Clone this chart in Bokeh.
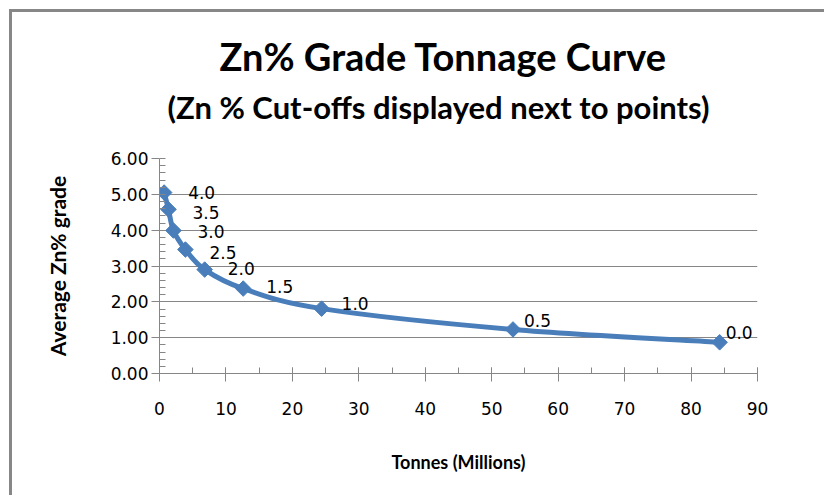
import numpy as np
from bokeh.plotting import figure
from bokeh.models import (Range1d, Title, ColumnDataSource, PrintfTickFormatter,
                          SingleIntervalTicker)
from bokeh.core.properties import value
from bokeh.embed import file_html
from bokeh.resources import INLINE

# ---- data ----
tonnes = [0.7, 1.35, 2.1, 3.9, 6.8, 12.6, 24.4, 53.2, 84.3]      # Tonnes (Millions)
grade = [5.05, 4.58, 3.99, 3.46, 2.90, 2.37, 1.81, 1.23, 0.87]   # Average Zn% grade
cutoff = ["4.0", "3.5", "3.0", "2.5", "2.0", "1.5", "1.0", "0.5", "0.0"]

# label nudges in screen pixels (styling only)
label_dx = [24, 24, 24, 24, 23, 23, 20, 11, 6]
label_dy = [0, 3, 1, 3, -1, -2, -5, -9, -10]

BLUE = "#4A7EBB"
GRAY = "#868686"

W, H = 815, 486
FL, FT, FR, FB = 147, 146, 745, 361   # frame edges in canvas px
p = figure(width=W, height=H, output_backend="svg", toolbar_location=None,
           title=None,
           x_range=Range1d(0, 90), y_range=Range1d(0, 6),
           min_border_left=FL, min_border_right=W - FR,
           min_border_top=FT, min_border_bottom=H - FB,
           background_fill_color="white", border_fill_color="white")
p.margin = (9, 0, 0, 9)
p.styles = {"border-left": "3px solid #878787", "border-top": "3px solid #878787"}
p.outline_line_color = None
p.xgrid.visible = False
p.ygrid.grid_line_color = GRAY
p.ygrid.grid_line_width = 1

# titles: first added sits closest to the plot (a blank spacer first)
p.add_layout(Title(text=" ", text_font_size="2px", standoff=21), "above")
p.add_layout(Title(text="(Zn % Cut-offs displayed next to points)", align="left",
                   offset=8, standoff=15, text_font="Lato", text_font_style="bold",
                   text_font_size="31px", text_color="black"), "above")
p.add_layout(Title(text="Zn% Grade Tonnage Curve", align="left",
                   offset=60, standoff=0, text_font="Lato", text_font_style="bold",
                   text_font_size="38px", text_color="black"), "above")

# axes
p.xaxis.ticker = SingleIntervalTicker(interval=10, num_minor_ticks=2)
p.yaxis.ticker = SingleIntervalTicker(interval=1, num_minor_ticks=5)
p.yaxis.formatter = PrintfTickFormatter(format="%.2f")
for ax in (p.xaxis[0], p.yaxis[0]):
    ax.axis_line_color = GRAY
    ax.major_tick_line_color = GRAY
    ax.minor_tick_line_color = GRAY
    ax.major_label_text_font = "DejaVu Sans"
    ax.major_label_text_font_size = "17px"
    ax.major_label_text_color = "black"
    ax.axis_label_text_font = "Lato"
    ax.axis_label_text_font_style = "bold"
    ax.axis_label_text_color = "black"

p.xaxis.major_tick_in = 6
p.xaxis.major_tick_out = 8
p.xaxis.minor_tick_in = 6
p.xaxis.minor_tick_out = 0
p.xaxis.major_label_standoff = 20
p.xaxis.axis_label = "Tonnes (Millions)"
p.xaxis.axis_label_text_font_size = "18px"
p.xaxis.axis_label_standoff = 33

p.yaxis.major_tick_in = 0
p.yaxis.major_tick_out = 8
p.yaxis.minor_tick_in = 6
p.yaxis.minor_tick_out = 0
p.yaxis.major_label_standoff = 3
p.yaxis.axis_label = "Average Zn% grade"
p.yaxis.axis_label_text_font_size = "21px"
p.yaxis.axis_label_standoff = 38

# smoothed line (Catmull-Rom -> cubic Bezier, control points from the data)
n = len(tonnes)
x0, y0, x1, y1, cx0, cy0, cx1, cy1 = ([] for _ in range(8))
for i in range(n - 1):
    a = max(i - 1, 0)
    b = min(i + 2, n - 1)
    x0.append(tonnes[i]); y0.append(grade[i])
    x1.append(tonnes[i + 1]); y1.append(grade[i + 1])
    cx0.append(tonnes[i] + (tonnes[i + 1] - tonnes[a]) / 6)
    cy0.append(grade[i] + (grade[i + 1] - grade[a]) / 6)
    cx1.append(tonnes[i + 1] - (tonnes[b] - tonnes[i]) / 6)
    cy1.append(grade[i + 1] - (grade[b] - grade[i]) / 6)
p.bezier(x0=x0, y0=y0, x1=x1, y1=y1, cx0=cx0, cy0=cy0, cx1=cx1, cy1=cy1,
         line_color=BLUE, line_width=5, line_cap="round", line_join="round")

src = ColumnDataSource(dict(x=tonnes, y=grade, t=cutoff, dx=label_dx, dy=label_dy))
p.scatter("x", "y", source=src, marker="square", angle=np.pi / 4, size=11,
          fill_color=BLUE, line_color=BLUE)
p.text("x", "y", text="t", source=src, x_offset="dx", y_offset="dy",
       text_align="left", text_baseline="middle",
       text_font=value("DejaVu Sans"), text_font_size=value("17px"),
       text_color="black")

open("out.html", "w").write(file_html(p, INLINE))
